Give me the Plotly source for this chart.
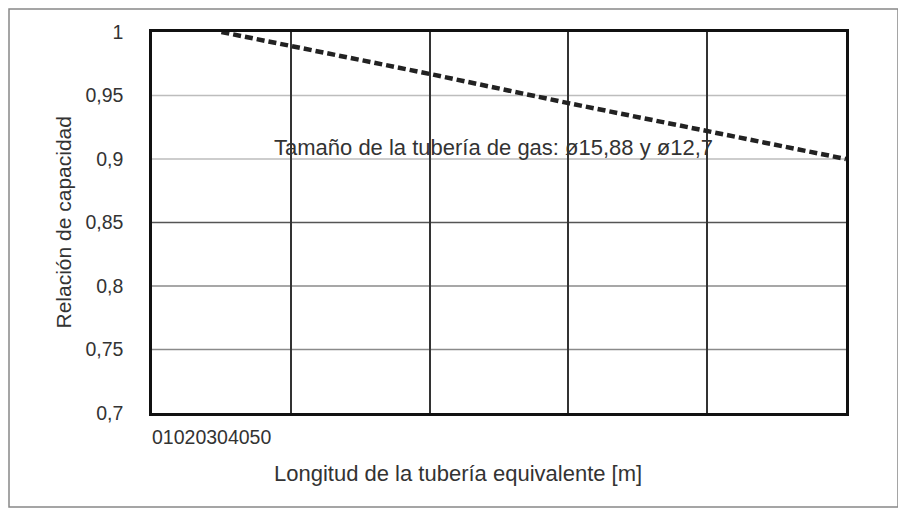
import plotly.graph_objects as go

# data
lengths = [5, 10, 20, 30, 40, 50]
capacity_ratio = [1.0, 0.989, 0.967, 0.944, 0.922, 0.9]
x_tick_labels = ["0", "10", "20", "30", "40", "50"]
x_grid = [10, 20, 30, 40]
y_ticks = [0.7, 0.75, 0.8, 0.85, 0.9, 0.95, 1.0]

# the source image has gridlines of uneven darkness
grid_colors = {0.75: "#8a8a8a", 0.8: "#8a8a8a", 0.85: "#555555",
               0.9: "#bdbdbd", 0.95: "#bdbdbd"}

# the page body has an 8px margin, so the figure is shrunk to fit the window
OFF = 8
W, H = 906 - OFF, 509 - OFF
ML, MR, MT, MB = 152 - OFF, 60, 32 - OFF, 96
pw, ph = W - ML - MR, H - MT - MB


def px_x(p):
    return (p - OFF - ML) / pw


def px_y(p):
    return (H - MB - (p - OFF)) / ph


fig = go.Figure()
fig.add_trace(go.Scatter(
    x=lengths, y=capacity_ratio, mode="lines",
    line=dict(color="#222222", width=4.5, dash="8px,4px"),
    showlegend=False, hoverinfo="skip",
))

font = "Liberation Sans, Arial, sans-serif"

fig.update_xaxes(
    range=[0, 50], tickvals=x_grid, showticklabels=False,
    showgrid=True, gridcolor="#333333", gridwidth=1.5,
    showline=True, linecolor="#111111", linewidth=2.5, mirror=True,
    zeroline=False, ticks="",
)
fig.update_yaxes(
    range=[0.7, 1.0], tickvals=y_ticks,
    ticktext=[("%g" % v).replace(".", ",") for v in y_ticks],
    tickfont=dict(size=19.5, color="#333333", family=font),
    showgrid=False,
    showline=True, linecolor="#111111", linewidth=2.5, mirror=True,
    zeroline=False, ticks="", ticklabelstandoff=22,
)

for v, c in grid_colors.items():
    fig.add_shape(
        type="line", xref="paper", yref="y", x0=0, x1=1, y0=v, y1=v,
        line=dict(color=c, width=1.5), layer="below",
    )

fig.add_annotation(
    text="Relación de capacidad", textangle=-90,
    x=px_x(63), y=0.5, xref="paper", yref="paper",
    xanchor="center", yanchor="middle", showarrow=False,
    font=dict(size=21, color="#333333", family=font),
)
fig.add_annotation(
    text="Tamaño de la tubería de gas: ø15,88 y ø12,7",
    x=px_x(272), y=px_y(147), xref="paper", yref="paper",
    xanchor="left", yanchor="middle", showarrow=False,
    font=dict(size=22, color="#333333", family=font),
)
# x tick labels squeezed together at the left, as in the source
fig.add_annotation(
    text="".join(x_tick_labels),
    x=px_x(150), y=px_y(437), xref="paper", yref="paper",
    xanchor="left", yanchor="middle", showarrow=False,
    font=dict(size=19.5, color="#333333", family=font),
)
fig.add_annotation(
    text="Longitud de la tubería equivalente [m]",
    x=px_x(458), y=px_y(473), xref="paper", yref="paper",
    xanchor="center", yanchor="middle", showarrow=False,
    font=dict(size=22, color="#333333", family=font),
)

# outer frame
fig.add_shape(
    type="rect", xref="paper", yref="paper",
    x0=px_x(9), x1=px_x(898), y0=px_y(507), y1=px_y(9),
    line=dict(color="#888888", width=1.5),
)

fig.update_layout(
    width=W, height=H,
    margin=dict(l=ML, r=MR, t=MT, b=MB),
    paper_bgcolor="white", plot_bgcolor="white",
    font=dict(family=font),
)

fig.write_html("out.html")
